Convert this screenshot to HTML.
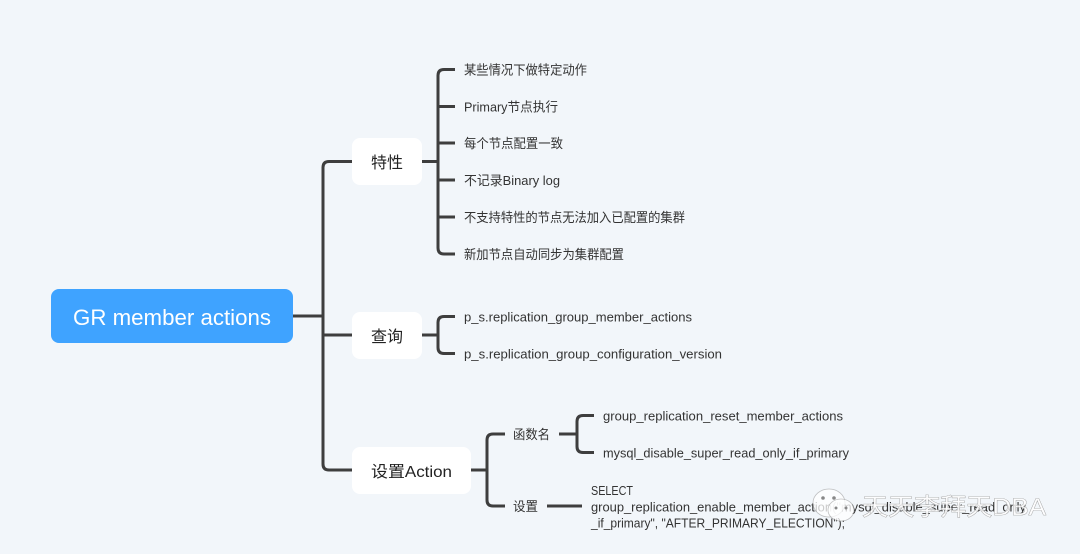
<!DOCTYPE html>
<html>
<head>
<meta charset="utf-8">
<style>
html,body{margin:0;padding:0;background:#f2f6fa;}
svg{display:block;}
text{font-family:"Liberation Sans","Noto Sans CJK SC",sans-serif;fill:#333;}
.l{font-size:13px;}
</style>
</head>
<body>
<svg width="1080" height="554" viewBox="0 0 1080 554" xmlns="http://www.w3.org/2000/svg">
<rect width="1080" height="554" fill="#f2f6fa"/>
<g fill="none" stroke="#3e3e3e" stroke-width="3" stroke-linecap="butt">
<path d="M293 316H323"/>
<path d="M352 161.500H329Q323 161.500 323 167.500V464Q323 470 329 470H352"/>
<path d="M323 335H352"/>
<path d="M422 161.500H438"/>
<path d="M455 69.500H444Q438 69.500 438 75.500V248Q438 254 444 254H455"/>
<path d="M438 106.500H455M438 143H455M438 180H455M438 217H455"/>
<path d="M422 335H438"/>
<path d="M455 316.500H444Q438 316.500 438 322.500V347.500Q438 353.500 444 353.500H455"/>
<path d="M471 470H487"/>
<path d="M505 434H493Q487 434 487 440V500Q487 506 493 506H505"/>
<path d="M559 434H577"/>
<path d="M594 415.500H583Q577 415.500 577 421.500V446.500Q577 452.500 583 452.500H594"/>
<path d="M547 506H582"/>
</g>
<rect x="51" y="289" width="242" height="54" rx="8" fill="#3fa3ff"/>
<rect x="352" y="138" width="70" height="47" rx="8" fill="#fff"/>
<rect x="352" y="312" width="70" height="47" rx="8" fill="#fff"/>
<rect x="352" y="447" width="119" height="47" rx="8" fill="#fff"/>
<text x="73" y="325" font-size="22" style="fill:#fff" textLength="198" lengthAdjust="spacingAndGlyphs">GR member actions</text>
<text x="371" y="168" font-size="16" style="fill:#222" textLength="32" lengthAdjust="spacingAndGlyphs">特性</text>
<text x="371" y="342" font-size="16" style="fill:#222" textLength="32" lengthAdjust="spacingAndGlyphs">查询</text>
<text x="371" y="477" font-size="16" style="fill:#222" textLength="81" lengthAdjust="spacingAndGlyphs">设置Action</text>
<text class="l" x="464" y="74.500" textLength="123" lengthAdjust="spacingAndGlyphs">某些情况下做特定动作</text>
<text class="l" x="464" y="111.500" textLength="94" lengthAdjust="spacingAndGlyphs">Primary节点执行</text>
<text class="l" x="464" y="148" textLength="99" lengthAdjust="spacingAndGlyphs">每个节点配置一致</text>
<text class="l" x="464" y="185" textLength="96" lengthAdjust="spacingAndGlyphs">不记录Binary log</text>
<text class="l" x="464" y="222" textLength="221" lengthAdjust="spacingAndGlyphs">不支持特性的节点无法加入已配置的集群</text>
<text class="l" x="464" y="259" textLength="160" lengthAdjust="spacingAndGlyphs">新加节点自动同步为集群配置</text>
<text class="l" x="464" y="321.500" textLength="228" lengthAdjust="spacingAndGlyphs">p_s.replication_group_member_actions</text>
<text class="l" x="464" y="358.500" textLength="258" lengthAdjust="spacingAndGlyphs">p_s.replication_group_configuration_version</text>
<text class="l" x="513" y="439" textLength="37" lengthAdjust="spacingAndGlyphs">函数名</text>
<text class="l" x="513" y="511" textLength="25" lengthAdjust="spacingAndGlyphs">设置</text>
<text class="l" x="603" y="420.500" textLength="240" lengthAdjust="spacingAndGlyphs">group_replication_reset_member_actions</text>
<text class="l" x="603" y="457.500" textLength="246" lengthAdjust="spacingAndGlyphs">mysql_disable_super_read_only_if_primary</text>
<text class="l" x="591" y="495" textLength="42" lengthAdjust="spacingAndGlyphs">SELECT</text>
<text class="l" x="591" y="511.500" textLength="435" lengthAdjust="spacingAndGlyphs">group_replication_enable_member_action("mysql_disable_super_read_only</text>
<text class="l" x="591" y="527.500" textLength="254" lengthAdjust="spacingAndGlyphs">_if_primary", "AFTER_PRIMARY_ELECTION");</text>
<g fill="#fff" fill-opacity=".75" stroke="#777" stroke-opacity=".45" stroke-width=".8">
<ellipse cx="829" cy="503" rx="16" ry="14"/>
<ellipse cx="841" cy="510" rx="13" ry="11"/>
</g>
<g fill="#888">
<circle cx="823" cy="498" r="1.800"/><circle cx="834" cy="498" r="1.800"/>
<circle cx="836" cy="508" r="1.500"/><circle cx="846" cy="508" r="1.500"/>
</g>
<text x="862" y="515" font-size="24" style="fill:#fff;stroke:#8a8a8a;stroke-width:.6;paint-order:stroke;fill-opacity:.8" textLength="184" lengthAdjust="spacingAndGlyphs">天天李拜天DBA</text>
</svg>
</body>
</html>
